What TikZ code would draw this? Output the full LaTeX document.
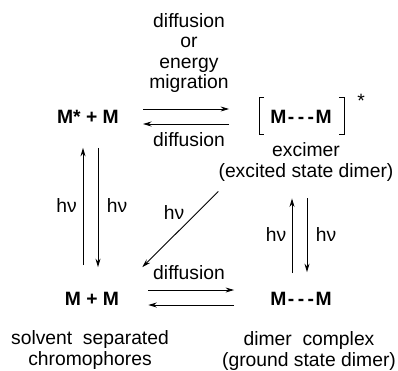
\documentclass[tikz,border=0pt]{standalone}
\usepackage{fontspec}
\setmainfont{Liberation Sans}
\usepackage{tikz}
\usetikzlibrary{arrows.meta, positioning, calc}

\newcommand{\dimerMM}{\textbf{M}\kern1.5pt-\kern3.5pt-\kern3.5pt-\kern1.5pt\textbf{M}}

\begin{document}
\begin{tikzpicture}[
    x=1pt, y=-1pt,
    every node/.style={font=\fontsize{19.3}{20.5}\selectfont, inner sep=0pt},
    species/.style={font=\fontsize{19.3}{20.5}\selectfont\bfseries},
    label/.style={align=center},
    arrow/.style={line width=0.9pt,->,>={Stealth[length=8.5pt,width=5pt]}},
    bracket/.style={line width=0.7pt}
]
\useasboundingbox (0,0) rectangle (398,370);

% species
\node[species] (mm1) at (88,117) {M* + M};
\node[species] (exc) at (301,117) {\dimerMM};
\node[species] (mm2) at (92,299) {M + M};
\node[species] (dim) at (301,299) {\dimerMM};
\node (star) at (361,101) {*};

% labels
\node[label] (migr) at (189,53) {diffusion\\or\\energy\\migration};
\node[label] (diff1) at (189,140) {diffusion};
\node[label] (diff2) at (189,273) {diffusion};
\node[label] (exclab) at (306,162) {excimer\\(excited state dimer)};
\node[label] (solv) at (90,350) {solvent\ \ separated\\chromophores};
\node[label] (dimlab) at (309,351) {dimer\ \ complex\\(ground state dimer)};
\node (hv1) at (66.5,206) {hν};
\node (hv2) at (117,206) {hν};
\node (hv3) at (174,213) {hν};
\node (hv4) at (276,235) {hν};
\node (hv5) at (326,235) {hν};

% excimer brackets
\draw[bracket] ([xshift=-6pt,yshift=13pt]exc.north west) -- ++(-5pt,0pt)
  -- ([xshift=-11pt,yshift=-11pt]exc.south west) -- ++(5pt,0pt);
\draw[bracket] ([xshift=7pt,yshift=13pt]exc.north east) -- ++(5pt,0pt)
  -- ([xshift=12pt,yshift=-11pt]exc.south east) -- ++(-5pt,0pt);

% top row
\draw[arrow] ([xshift=24pt,yshift=8pt]mm1.east) -- ([xshift=-41pt,yshift=8pt]exc.west);
\draw[arrow] ([xshift=-41pt,yshift=-7pt]exc.west) -- ([xshift=24pt,yshift=-7pt]mm1.east);

% bottom row
\draw[arrow] ([xshift=29pt,yshift=9pt]mm2.east) -- ([xshift=-36pt,yshift=9pt]dim.west);
\draw[arrow] ([xshift=-36pt,yshift=-6pt]dim.west) -- ([xshift=29pt,yshift=-6pt]mm2.east);

% left column
\draw[arrow] ([xshift=-9pt,yshift=27pt]mm2.north) -- ([xshift=-5pt,yshift=-24pt]mm1.south);
\draw[arrow] ([xshift=10pt,yshift=-24pt]mm1.south) -- ([xshift=6pt,yshift=25pt]mm2.north);

% right column
\draw[arrow] ([xshift=-9pt,yshift=19pt]dim.north) -- ([xshift=-14pt,yshift=-17pt]exclab.south);
\draw[arrow] ([xshift=1pt,yshift=-17pt]exclab.south) -- ([xshift=6pt,yshift=20pt]dim.north);

% emission
\draw[arrow] ([yshift=-10pt]exclab.south west) -- ([xshift=23pt,yshift=25pt]mm2.north east);
\end{tikzpicture}
\end{document}
